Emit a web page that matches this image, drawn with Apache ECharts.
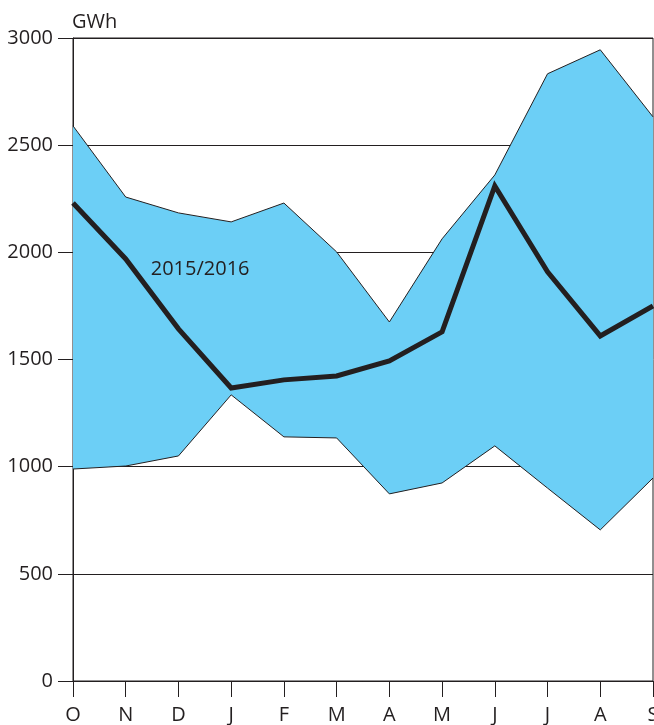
<!DOCTYPE html>
<html>
<head>
<meta charset="utf-8">
<script src="https://cdn.jsdelivr.net/npm/echarts@6/dist/echarts.min.js"></script>
<style>
  html, body { margin: 0; padding: 0; background: #fff; }
  #chart-area { width: 654px; height: 725px; }
</style>
</head>
<body>
<div id="chart-area"></div>
<script>
const months = ['O', 'N', 'D', 'J', 'F', 'M', 'A', 'M', 'J', 'J', 'A', 'S'];
const rangeMax = [2590, 2258, 2184, 2142, 2230, 2002, 1675, 2063, 2361, 2833, 2945, 2632];
const rangeMin = [989, 1003, 1050, 1335, 1139, 1134, 873, 924, 1097, 900, 705, 947];
const season = [2230, 1969, 1643, 1367, 1405, 1423, 1493, 1629, 2310, 1909, 1610, 1750];
const seasonName = '2015/2016';

const ink = '#231f20';
const font = '"Open Sans", "Noto Sans", sans-serif';

const myChart = echarts.init(document.getElementById('chart-area'));

// band = min + (max - min) stacked
const rangeSpan = rangeMax.map((v, i) => v - rangeMin[i]);

const option = {
  animation: false,
  grid: {
    left: 73, right: 1, top: 38, bottom: 44,
    outerBoundsMode: 'none',
    containLabel: false,
    show: true, borderColor: ink, borderWidth: 1
  },
  xAxis: {
    type: 'category',
    data: months,
    boundaryGap: false,
    axisLine: { lineStyle: { color: ink, width: 1 } },
    axisTick: { length: 16, lineStyle: { color: ink } },
    axisLabel: { color: ink, fontSize: 20, fontFamily: font, margin: 24 },
    splitLine: { show: false }
  },
  yAxis: {
    type: 'value',
    min: 0, max: 3000, interval: 500,
    name: 'GWh',
    nameLocation: 'end',
    nameGap: 6,
    nameTextStyle: { color: ink, fontSize: 20, fontFamily: font, align: 'left', padding: [0, 0, 0, -1] },
    axisLine: { show: true, lineStyle: { color: ink, width: 1 } },
    axisTick: { show: true, length: 15, lineStyle: { color: ink } },
    axisLabel: { color: ink, fontSize: 20, fontFamily: font, margin: 20, formatter: (v) => String(v) },
    splitLine: { show: true, lineStyle: { color: ink, width: 1 } }
  },
  series: [
    {
      name: 'min',
      type: 'line',
      stack: 'range',
      data: rangeMin,
      symbol: 'none',
      lineStyle: { color: ink, width: 1 },
      z: 2
    },
    {
      name: 'range',
      type: 'line',
      stack: 'range',
      data: rangeSpan,
      symbol: 'none',
      lineStyle: { color: ink, width: 1 },
      areaStyle: { color: '#6ccff6', opacity: 1 },
      z: 2
    },
    {
      name: seasonName,
      type: 'line',
      data: season,
      symbol: 'none',
      lineStyle: { color: ink, width: 5, join: 'miter' },
      z: 3
    }
  ]
};
myChart.setOption(option);

// series label next to the November point
const p = myChart.convertToPixel({ seriesIndex: 2 }, [1, season[1]]);
myChart.setOption({
  graphic: [{
    type: 'text',
    x: p[0] + 25,
    y: p[1] + 10,
    style: {
      text: seasonName,
      fill: ink,
      font: '20px ' + font,
      verticalAlign: 'middle'
    },
    z: 10
  }]
});
</script>
</body>
</html>
